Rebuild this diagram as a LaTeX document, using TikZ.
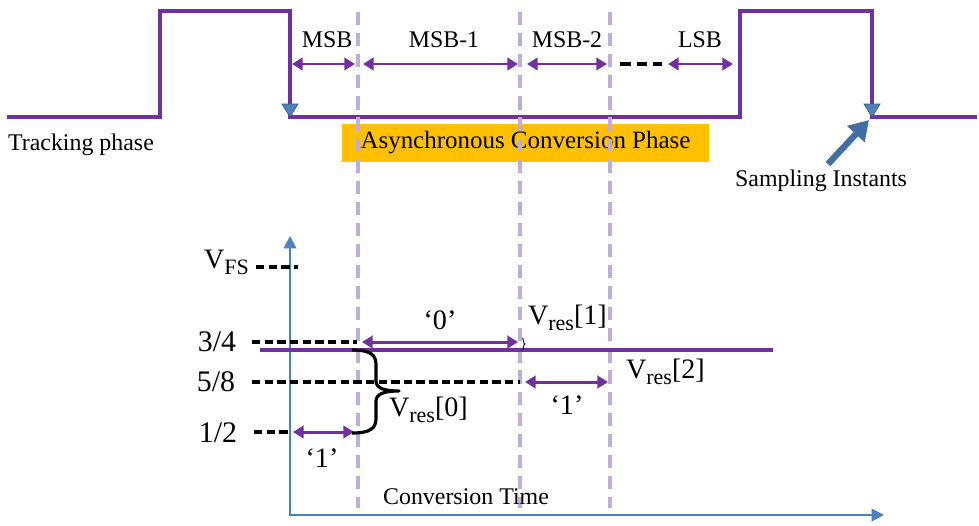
\documentclass[tikz,border=0pt]{standalone}
\usepackage{fontspec}
\setmainfont{Liberation Serif}
\usetikzlibrary{arrows.meta,calc,decorations.pathreplacing}
\definecolor{sarpurple}{RGB}{112,48,160}
\definecolor{sarblue}{RGB}{79,129,189}
\definecolor{sarlav}{RGB}{190,174,216}
\definecolor{sarorange}{RGB}{255,192,0}
\newcommand{\lowsub}[1]{\raisebox{-0.45ex}{\fontsize{12.5}{13}\selectfont #1}}
\tikzset{
  wave/.style={sarpurple, line width=2pt},
  span/.style={sarpurple, line width=1.7pt,
               {Triangle[length=6pt,width=7pt]}-{Triangle[length=6pt,width=7pt]}},
  level/.style={black, line width=2pt, dash pattern=on 4.8pt off 2.4pt},
  tline/.style={sarlav, line width=2pt, dash pattern=on 7.5pt off 4.5pt},
  lbl/.style={font=\fontsize{13.6}{15}\selectfont, inner sep=1pt},
  vlbl/.style={font=\fontsize{16}{18}\selectfont, inner sep=1pt},
  fraclbl/.style={font=\fontsize{17}{20}\selectfont, inner sep=1pt},
  trig/.style={fill=sarblue, draw=sarblue!70!black, line width=0.4pt},
}

\begin{document}
\begin{tikzpicture}[x=0.02cm, y=-0.02cm]
\useasboundingbox (0,0) rectangle (979,525);
% Time marks
\coordinate (fall1) at (290,117);
\coordinate (fall2) at (872,117);
\coordinate (tA) at (358,12);
\coordinate (tB) at (520,12);
\coordinate (tC) at (610,12);
% Sampling waveform
\draw[wave] (7,117) -- (160,117) -- (160,11) -- (fall1 |- 0,11) -- (fall1)
  -- (740,117) -- (740,11) -- (fall2 |- 0,11) -- (fall2) -- (977,117);
\fill[trig] ($(fall1)+(-8,-13)$) -- ($(fall1)+(8,-13)$) -- (fall1) -- cycle;
\fill[trig] ($(fall2)+(-8,-13)$) -- ($(fall2)+(8,-13)$) -- (fall2) -- cycle;
% Phase box and labels
\node[fill=sarorange, minimum width=7.34cm, minimum height=0.76cm, inner sep=0pt,
      font=\fontsize{14.2}{15}\selectfont] (conv) at (525.5,143) {Asynchronous Conversion Phase};
\node[lbl, anchor=west] (track) at (6,145) {Tracking phase};
\node[lbl, anchor=west] (samp) at (733,181) {Sampling Instants};
\coordinate (sampfoot) at (828,164);
\draw[sarblue!85!black, line width=3.6pt, -{Triangle[length=11pt,width=13pt]}] (sampfoot) -- ($(fall2)+(-3,3)$);
% Bit-cycle dividers
\foreach \t in {tA,tB,tC}
  \draw[tline] (\t) -- (\t |- 0,508);
% Bit-cycle spans
\draw[span] (292,64) -- ($(tA |- 0,64)+(-3,0)$);
\draw[span] ($(tA |- 0,64)+(5,0)$) -- ($(tB |- 0,64)+(-2,0)$);
\draw[span] ($(tB |- 0,64)+(7,0)$) -- ($(tC |- 0,64)+(-3,0)$);
\draw[level, line width=2.4pt, dash pattern=on 6pt off 3.4pt] (620,64) -- (662,64);
\draw[span] (668,64) -- (733,64);
\node[lbl] (msb) at (327,40) {MSB};
\node[lbl] (msb1) at (444,40) {MSB-1};
\node[lbl] (msb2) at (567,40) {MSB-2};
\node[lbl] (lsb) at (700,40) {LSB};
% Residue axes
\coordinate (org) at (290,515);
\draw[sarblue, line width=1.5pt, {Triangle[length=7pt,width=7pt]}-{Triangle[length=7pt,width=7pt]}]
  (org |- 0,236) -- (org) -- (884,515);
\node[lbl] (ctime) at (466,497) {Conversion Time};
% Reference levels
\node[vlbl, anchor=east] (vfs) at (251,262) {V\lowsub{FS}};
\node[fraclbl] (l34) at (217,342) {3/4};
\node[fraclbl] (l58) at (216,382) {5/8};
\node[fraclbl] (l12) at (218,433) {1/2};
\draw[level] (256,267) -- (298,267);
\draw[level] (252,342) -- ($(tA |- 0,342)+(-1,0)$);
\draw[level] (252,382) -- (tB |- 0,382);
\draw[level] (254,432) -- (org |- 0,432);
% Input level
\draw[wave] (260,350) -- (773,350);
% Residue steps
\draw[span] ($(org |- 0,432)+(3,0)$) -- ($(tA |- 0,432)+(-4,0)$);
\draw[span] ($(tA |- 0,342)+(4,0)$) -- ($(tB |- 0,342)+(-2,0)$);
\draw[span] ($(tB |- 0,382)+(5,0)$) -- ($(tC |- 0,382)+(-2,0)$);
\node[vlbl] (b0) at (322,458) {`1'};
\node[vlbl] (b1) at (440,320) {`0'};
\node[vlbl] (b2) at (567,405) {`1'};
% Residue braces
\draw[line width=1.8pt, line join=round]
  ($(tA |- 0,350)+(-6,0)$) .. controls (371,350) and (376,355) .. (376,365)
  -- (376,381) .. controls (376,388) and (384,391) .. (399,391)
  .. controls (384,391) and (376,394) .. (376,401)
  -- (376,418) .. controls (376,428) and (371,433) .. ($(tA |- 0,433)+(-6,0)$);
\draw[line width=0.5pt, decorate, decoration={brace, amplitude=0.06cm}]
  ($(tB |- 0,338)+(2,0)$) -- ($(tB |- 0,350)+(2,0)$);
\node[vlbl, anchor=west] (vr0) at (387,410) {V\lowsub{res}[0]};
\node[vlbl, anchor=west] (vr1) at (526,318) {V\lowsub{res}[1]};
\node[vlbl, anchor=west] (vr2) at (624,372) {V\lowsub{res}[2]};
\end{tikzpicture}
\end{document}
